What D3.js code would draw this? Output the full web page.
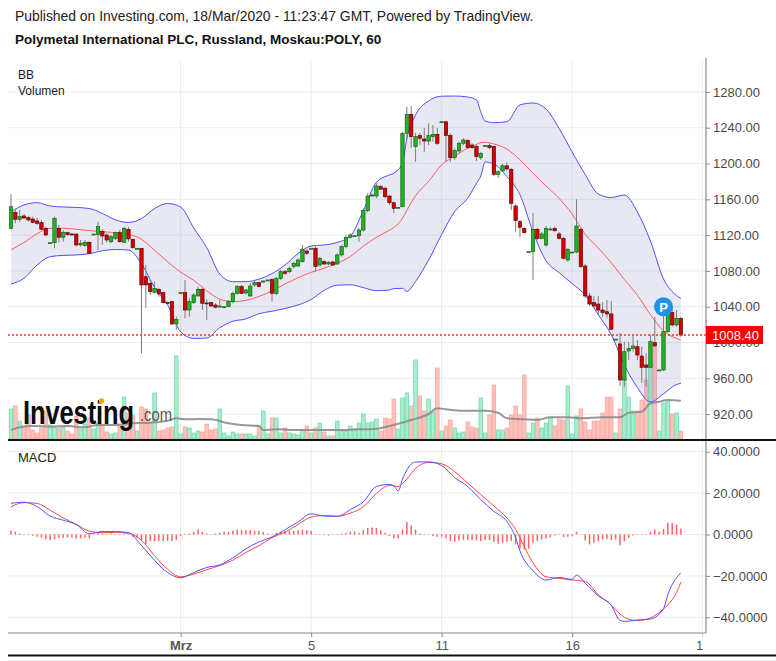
<!DOCTYPE html>
<html><head><meta charset="utf-8">
<script src="https://cdn.jsdelivr.net/npm/d3@7"></script>
<style>body{margin:0;background:#fff;}svg{display:block;font-family:"Liberation Sans",Arial,sans-serif;}</style>
</head><body><svg id="c" width="776" height="661"></svg>
<script>
// ---------- DATA (hourly bars, index 0..154) ----------
const open=[1127.6,1145.5,1137.7,1141.4,1139.5,1138.0,1135.8,1133.9,1127.6,1111.5,
1111.5,1127.6,1117.6,1122.7,1121.2,1121.2,1109.0,1108.2,1112.0,1121.2,
1120.9,1123.8,1120.1,1112.6,1116.4,1122.7,1112.0,1126.5,1115.3,1105.3,
1105.3,1073.5,1066.2,1056.1,1059.5,1055.7,1044.9,1045.6,1020.7,1055.7,
1055.7,1036.3,1044.5,1052.0,1059.5,1044.2,1044.5,1041.9,1040.8,1040.0,
1040.0,1045.6,1054.9,1062.4,1055.3,1052.0,1064.3,1066.9,1067.6,1069.9,
1070.6,1054.9,1071.7,1079.1,1079.1,1084.7,1085.5,1090.3,1102.3,1105.3,
1105.3,1086.6,1090.3,1087.7,1090.0,1087.7,1097.8,1107.1,1117.6,1119.3,
1119.3,1125.7,1147.3,1164.8,1163.7,1174.1,1172.3,1163.7,1156.2,1151.1,
1151.7,1233.8,1255.0,1218.8,1231.1,1227.4,1225.1,1230.0,1232.6,1246.7,
1246.7,1231.1,1206.5,1214.0,1222.6,1225.5,1220.7,1218.8,1206.5,1219.9,
1219.9,1218.8,1187.9,1191.6,1197.5,1193.5,1152.5,1135.0,1127.6,1101.5,
1101.5,1126.5,1116.4,1109.0,1126.8,1127.6,1121.3,1116.4,1092.2,1101.1,
1101.1,1126.5,1085.5,1052.0,1044.5,1043.0,1036.3,1034.4,1031.9,1003.8,
998.4,958.1,990.5,993.5,995.3,984.9,974.9,972.3,999.8,969.3,
969.3,1012.1,1033.8,1019.6,1027.0];
const high=[1165.9,1148.8,1148.1,1143.5,1141.4,1140.6,1139.5,1136.9,1129.4,1111.5,
1140.6,1131.3,1125.7,1123.8,1122.4,1122.0,1114.5,1114.5,1112.6,1121.2,
1134.9,1126.5,1122.0,1120.1,1123.8,1125.7,1129.4,1129.4,1116.4,1105.3,
1105.3,1086.6,1069.9,1067.9,1060.6,1056.8,1045.6,1046.4,1028.8,1055.7,
1069.9,1049.4,1054.9,1062.4,1060.6,1048.0,1045.6,1043.8,1047.5,1040.0,
1047.5,1056.8,1064.3,1064.3,1060.0,1066.2,1069.9,1068.0,1069.5,1069.9,
1071.7,1073.5,1081.0,1081.0,1084.7,1090.0,1094.1,1109.0,1104.2,1105.3,
1107.1,1095.9,1092.2,1091.1,1091.1,1099.7,1109.0,1120.1,1122.0,1119.3,
1127.6,1150.0,1166.7,1166.7,1177.9,1176.0,1174.1,1164.8,1157.4,1151.1,
1235.2,1263.5,1264.3,1234.1,1234.1,1239.7,1244.9,1243.0,1239.7,1246.7,
1246.7,1233.8,1217.0,1224.4,1228.2,1227.4,1222.6,1220.7,1212.9,1219.9,
1222.6,1219.9,1192.7,1199.5,1201.4,1195.0,1154.8,1136.9,1129.1,1101.5,
1144.7,1128.0,1123.5,1130.2,1128.7,1129.4,1123.5,1117.9,1105.6,1101.1,
1160.0,1128.0,1087.7,1055.3,1051.9,1051.9,1045.3,1047.5,1046.4,1003.8,
1010.6,1000.9,1000.9,1008.4,1002.8,995.3,988.0,1008.4,1028.8,969.3,
1038.2,1040.0,1040.0,1036.3,1028.8];
const low=[1126.8,1133.2,1135.0,1137.7,1135.0,1133.2,1131.3,1125.7,1119.0,1111.5,
1105.3,1111.5,1112.6,1119.0,1119.6,1107.1,1107.1,1107.1,1098.9,1121.2,
1103.4,1109.0,1111.5,1110.9,1114.5,1111.5,1110.9,1112.6,1105.3,1105.3,
987.9,1038.6,1053.1,1054.9,1051.2,1043.8,1043.0,1019.6,1014.0,1055.7,
1027.0,1028.8,1043.0,1051.2,1036.3,1025.2,1039.4,1038.2,1038.6,1040.0,
1039.4,1043.8,1053.1,1054.2,1054.0,1051.2,1062.4,1061.7,1066.9,1069.9,
1045.6,1053.1,1069.9,1075.4,1077.3,1082.9,1084.4,1089.2,1097.8,1105.3,
1079.1,1084.7,1086.6,1086.6,1085.5,1086.6,1095.9,1105.3,1116.4,1119.3,
1112.6,1123.8,1145.5,1162.9,1161.1,1170.4,1161.1,1153.6,1144.4,1151.1,
1151.1,1226.3,1217.3,1202.0,1220.7,1212.9,1220.7,1224.4,1220.7,1246.7,
1202.0,1202.0,1203.9,1211.4,1220.7,1216.2,1216.2,1202.8,1203.9,1219.9,
1216.2,1186.1,1183.8,1190.5,1192.0,1148.1,1123.8,1118.2,1121.8,1101.5,
1069.9,1114.5,1115.7,1106.7,1125.5,1123.5,1115.1,1093.3,1090.3,1101.1,
1099.7,1083.3,1049.7,1040.8,1038.6,1030.8,1028.5,1027.4,1014.0,1003.8,
951.4,950.6,980.5,989.7,980.5,954.8,950.6,971.2,995.3,969.3,
968.5,1010.6,1017.7,1017.7,1006.5];
const close=[1151.7,1137.7,1140.6,1139.1,1136.9,1134.3,1133.2,1126.5,1120.1,1111.5,
1138.8,1117.6,1122.7,1120.5,1120.7,1109.0,1110.9,1112.0,1099.7,1121.2,
1129.4,1119.0,1114.5,1118.2,1122.7,1112.6,1127.6,1115.7,1105.9,1105.3,
1064.3,1064.3,1056.8,1060.6,1054.2,1044.5,1043.8,1020.7,1025.9,1055.7,
1036.3,1045.6,1053.1,1059.5,1043.8,1044.0,1040.8,1039.4,1040.8,1040.0,
1045.6,1054.9,1062.4,1054.9,1058.7,1063.1,1066.9,1062.4,1068.7,1069.9,
1054.9,1071.7,1079.1,1077.3,1082.9,1088.5,1092.2,1104.2,1099.7,1105.3,
1084.7,1094.1,1087.7,1089.4,1086.6,1097.8,1107.1,1117.6,1120.1,1119.3,
1125.7,1147.3,1163.7,1164.8,1174.9,1171.2,1162.9,1156.2,1149.9,1151.1,
1233.8,1255.0,1230.0,1230.0,1228.2,1225.1,1231.1,1232.6,1222.6,1246.7,
1231.1,1206.5,1214.3,1222.6,1226.3,1217.7,1217.7,1207.6,1211.4,1219.9,
1217.7,1187.9,1190.8,1197.5,1193.9,1155.5,1136.1,1128.7,1122.7,1101.5,
1126.5,1116.4,1121.3,1127.6,1126.8,1124.9,1116.4,1094.1,1104.2,1101.1,
1130.2,1084.7,1052.0,1043.0,1040.8,1036.3,1033.3,1031.9,1014.8,1003.8,
958.1,989.7,993.5,996.1,986.0,972.3,972.3,1000.9,996.1,969.3,
1012.1,1033.8,1019.6,1027.0,1008.4];
const volume=[30,33,18,13,24,9,6,11,28,14, 12,11,12,8,5,23,10,15,21,10,
16,13,7,5,6,15,42,26,24,8, 32,30,17,46,8,9,11,12,83,5,
12,11,6,8,7,15,9,10,30,6, 3,7,5,5,5,5,3,13,28,5,
21,21,6,11,6,5,4,9,13,6, 11,16,7,3,3,18,8,8,13,10,
16,25,16,17,20,8,21,20,40,10, 41,46,33,79,43,28,40,27,71,8,
13,19,11,6,7,17,12,11,41,6, 24,54,9,9,11,24,33,24,64,6,
16,21,11,16,21,13,20,19,53,5, 23,30,17,9,18,18,26,42,42,6,
30,62,42,28,28,39,59,75,92,8, 36,38,25,26,8];
const volMaIdx=[0,2,5,9,13,17,20,24,28,32,36,38,40,43,46,50,53,57,58,61,66,71,76,80,83,87,92,96,98,100,104,109,112,114,118,121,124,128,131,136,140,142,145,147,149,151,154];
const volMa=[9,11.7,13,12.3,13,11.7,14,14,15.7,16.3,18.3,20.7,19.7,20,19.7,15.7,14,13,9,9.7,9,9,9,9.7,9.7,13,19,25,30.7,29.7,28.3,28.3,26.3,20.7,19.7,19,21.7,21.7,20.7,21.7,21.7,26.3,27.3,35.7,37.3,39,38.3];
const bbIdx=[0,3,6,9,12,15,18,21,24,27,30,33,36,39,42,45,48,51,54,57,60,63,66,69,72,75,78,81,84,87,88,90,91,93,96,99,102,105,107,108,109,111,114,117,120,123,126,129,132,135,138,141,144,147,150,153,154];
const bbUpper=[1146.2,1153.7,1156.2,1152.5,1151.4,1150.9,1149.7,1144.2,1137.1,1134.1,1138.5,1149.7,1155.3,1151.4,1128.0,1106.0,1076.5,1068.0,1068.0,1070.8,1077.0,1086.6,1099.5,1107.8,1109.0,1111.8,1118.8,1147.3,1179.0,1187.2,1189.2,1200.6,1228.0,1254.2,1269.9,1275.2,1275.4,1274.3,1271.0,1257.6,1247.5,1245.6,1246.7,1265.4,1267.6,1260.9,1239.1,1212.9,1187.7,1165.9,1162.0,1164.8,1145.8,1113.4,1071.0,1052.5,1049.2];
const bbMiddle=[1103.4,1111.8,1121.6,1127.6,1127.6,1126.5,1125.1,1123.7,1122.8,1121.0,1115.4,1103.0,1090.2,1078.6,1069.5,1057.8,1048.4,1045.6,1047.1,1051.4,1057.7,1065.4,1072.4,1078.4,1083.0,1088.6,1096.1,1107.6,1117.5,1125.5,1128.5,1138.8,1147.7,1164.0,1180.0,1198.5,1208.1,1217.2,1221.3,1223.3,1223.7,1221.9,1216.0,1204.2,1189.1,1174.9,1161.0,1143.6,1120.9,1105.6,1089.1,1070.5,1052.8,1031.2,1013.1,1004.5,1002.8];
const bbLower=[1065.4,1071.8,1086.6,1095.9,1097.3,1097.8,1099.2,1102.5,1103.9,1103.3,1088.0,1061.5,1042.0,1012.0,1004.5,1005.0,1016.5,1023.7,1026.3,1032.2,1034.9,1038.0,1041.9,1048.1,1058.2,1064.1,1064.5,1061.3,1057.9,1058.7,1060.3,1060.5,1057.0,1068.2,1092.2,1120.6,1146.3,1161.3,1177.8,1186.1,1201.7,1199.5,1185.4,1165.1,1123.6,1091.3,1078.0,1065.8,1053.1,1031.0,1008.7,975.1,949.6,933.5,942.7,953.1,954.4];
const macdIdx=[0,3,6,9,12,15,18,21,24,27,30,33,36,39,42,45,48,51,54,57,60,63,66,69,72,75,78,81,84,87,88,89,90,91,93,96,99,102,105,108,111,114,116,117,120,123,126,129,130,132,135,138,140,141,144,147,150,151,153,154];
const macdLine=[15.1,15.6,13.5,8.9,6.9,4.8,0.4,1.4,1.4,0.9,-5.3,-12.5,-18.4,-20.9,-18.4,-15.9,-14.7,-11.3,-6.9,-3.6,-1.2,2.3,6.1,10.0,8.9,8.8,12.0,15.8,23.2,24.2,23.5,21.0,26.7,31.2,35.0,35.1,33.3,27.5,23.2,16.9,11.2,6.3,-1.5,-7.9,-17.5,-22.0,-20.7,-21.7,-19.6,-23.5,-29.6,-34.2,-41.5,-42.0,-41.3,-40.8,-35.8,-29.0,-20.9,-18.5];
const signalLine=[13.4,15.4,15.0,11.8,8.0,4.9,1.6,0.9,1.0,0.6,-2.8,-10.2,-16.8,-20.4,-19.1,-17.0,-15.0,-12.4,-8.7,-5.4,-1.5,1.1,4.9,8.4,9.2,8.8,10.3,13.4,19.8,23.7,23.5,23.2,24.6,26.8,31.9,34.8,34.2,30.3,24.8,19.3,13.8,8.0,2.5,-1.6,-13.7,-20.4,-21.2,-22.0,-22.2,-22.7,-29.1,-34.1,-38.4,-40.0,-41.6,-40.3,-36.0,-34.0,-28.0,-23.0];
const macdHist=[1.8,1.3,0.5,0,0,-0.6,-1.1,-1.6,-2.3,-2.7,
-2.3,-1.6,-1.6,-1.4,-1.4,-1.9,-1.9,-1.6,-1.9,-0.3,
0.8,0.5,0,0.5,0.2,-0.3,0.5,0,-1.1,-1.6,
-2.7,-4.7,-3.2,-3.2,-3.1,-3.2,-3.1,-3.2,-2.7,-0.8,
-0.3,0.5,1.3,2.4,1.3,0.5,0.2,0.5,0.8,1.3,
1.3,1.8,2.4,2.1,2.1,2.1,1.8,1.8,1.3,0.5,
0.2,0.8,1.3,1.6,1.8,1.8,2.1,2.4,2.1,1.8,
0,0,-0.3,-0.5,-0.3,0.2,0.5,0.8,1.4,1.4,
0.8,2.1,3.2,3.4,3.2,2.1,0.8,-0.8,-1.9,-1.9,
2.4,6.0,4.3,2.4,0.5,0,0,-0.8,-1.1,-1.1,
-1.9,-3.2,-3.5,-2.9,-2.6,-2.7,-2.6,-2.9,-3.2,-2.7,
-2.7,-3.5,-4.5,-4.0,-3.5,-3.2,-4.8,-6.8,-7.2,-6.8,
-4.0,-3.2,-2.4,-1.9,-1.3,-0.5,0,-1.3,-1.1,-0.8,
1.3,0,-2.9,-4.8,-4.0,-3.2,-2.4,-2.1,-2.7,-2.4,
-5.2,-3.2,-1.6,-0.5,0,0.3,0,1.3,2.4,1.3,
2.7,5.6,5.6,4.8,2.9];
const priceTicks=[920,960,1000,1040,1080,1120,1160,1200,1240,1280];
const macdTicks=[-40,-20,0,20,40];
const dateTickIdx=[39,69,99,129,159];
const dateTickLabels=["Mrz","5","11","16","19"];
const lastPrice=1008.40;
const markerIdx=150, markerPrice=1040, markerText="P";
const title1="Published on Investing.com, 18/Mar/2020 - 11:23:47 GMT, Powered by TradingView.";
const title2="Polymetal International PLC, Russland, Moskau:POLY, 60";

// ---------- LAYOUT ----------
const svg=d3.select('#c');
const L=8,R=706,mainTop=62,mainBot=440,macdBot=633;
const n=close.length, idx=d3.range(n);
const x=d3.scaleLinear().domain([0,154]).range([11,680.9]);
const yP=d3.scaleLinear().domain([960,1200]).range([378.3,163.5]);
const yV=d3.scaleLinear().domain([0,100]).range([439,339]);
const yM=d3.scaleLinear().domain([-40,40]).range([617.3,451.7]);

const defs=svg.append('defs');
defs.append('clipPath').attr('id','clipMain').append('rect').attr('x',L).attr('y',mainTop).attr('width',R-L).attr('height',mainBot-mainTop);
defs.append('clipPath').attr('id','clipMacd').append('rect').attr('x',L).attr('y',mainBot+1).attr('width',R-L).attr('height',macdBot-mainBot-1);
defs.append('clipPath').attr('id','clipAxisX').append('rect').attr('x',0).attr('y',0).attr('width',703).attr('height',22);

// titles
svg.append('text').attr('x',15).attr('y',20.5).attr('font-size',13.9).attr('fill','#222').text(title1);
svg.append('text').attr('x',15).attr('y',44).attr('font-size',13.5).attr('font-weight','bold').attr('fill','#111').text(title2);

// grid
const grid=svg.append('g');
grid.selectAll('line.hp').data(priceTicks).join('line')
  .attr('x1',L).attr('x2',R).attr('y1',d=>yP(d)).attr('y2',d=>yP(d)).attr('stroke','#ededed');
grid.selectAll('line.hm').data(macdTicks).join('line')
  .attr('x1',L).attr('x2',R).attr('y1',d=>yM(d)).attr('y2',d=>yM(d)).attr('stroke','#ededed');
grid.selectAll('line.v').data(dateTickIdx.filter(d=>x(d)<R)).join('line')
  .attr('x1',d=>x(d)).attr('x2',d=>x(d)).attr('y1',mainTop).attr('y2',macdBot).attr('stroke','#ededed');

// ---------- MAIN PANE ----------
const gm=svg.append('g').attr('clip-path','url(#clipMain)');
const up=i=>close[i]>=open[i];
// volume
gm.selectAll('rect.vol').data(idx).join('rect')
  .attr('x',i=>x(i)-1.8).attr('width',3.6)
  .attr('y',i=>yV(volume[i])).attr('height',i=>yV(0)-yV(volume[i]))
  .attr('fill',i=>up(i)?'#a9ecce':'#ffc2bd')
  .attr('stroke',i=>up(i)?'#6ad8a6':'#ff9f97').attr('stroke-width',0.7);
// volume MA
gm.append('path').datum(volMaIdx.map((d,k)=>[d,volMa[k]]))
  .attr('d',d3.line().x(d=>x(d[0])).y(d=>yV(d[1])).curve(d3.curveMonotoneX))
  .attr('fill','none').attr('stroke','#8c8c8c').attr('stroke-width',2).attr('opacity',0.9);
// BB
const bb=bbIdx.map((d,k)=>({i:d,u:bbUpper[k],m:bbMiddle[k],l:bbLower[k]}));
gm.append('path').datum(bb)
  .attr('d',d3.area().x(d=>x(d.i)).y0(d=>yP(d.l)).y1(d=>yP(d.u)).curve(d3.curveMonotoneX))
  .attr('fill','rgba(125,125,185,0.18)');
[['u','#4f4fff'],['l','#4f4fff'],['m','#ff5c5c']].forEach(([k,c])=>{
  gm.append('path').datum(bb)
    .attr('d',d3.line().x(d=>x(d.i)).y(d=>yP(d[k])).curve(d3.curveMonotoneX))
    .attr('fill','none').attr('stroke',c).attr('stroke-width',1);
});
// candles
gm.selectAll('line.wick').data(idx).join('line')
  .attr('x1',i=>x(i)).attr('x2',i=>x(i))
  .attr('y1',i=>yP(high[i])).attr('y2',i=>yP(low[i]))
  .attr('stroke','#7d7d7d').attr('stroke-width',1);
gm.selectAll('rect.body').data(idx).join('rect')
  .attr('x',i=>x(i)-1.7).attr('width',3.4)
  .attr('y',i=>yP(Math.max(open[i],close[i])))
  .attr('height',i=>Math.max(1,Math.abs(yP(open[i])-yP(close[i]))))
  .attr('fill',i=>up(i)?'#1fb51f':'#d40000')
  .attr('stroke',i=>up(i)?'#145214':'#500000').attr('stroke-width',0.6);
// last price line
gm.append('line').attr('x1',L).attr('x2',R).attr('y1',yP(lastPrice)).attr('y2',yP(lastPrice))
  .attr('stroke','#ff2a2a').attr('stroke-width',1.3).attr('stroke-dasharray','2,2');
// marker
gm.append('circle').attr('cx',x(markerIdx)).attr('cy',yP(markerPrice)).attr('r',9.5).attr('fill','#1e92ea');
gm.append('text').attr('x',x(markerIdx)).attr('y',yP(markerPrice)+4.8).attr('text-anchor','middle')
  .attr('font-size',13).attr('font-weight','bold').attr('fill','#fff').text(markerText);

// logo (word sized to its natural width, stretched vertically)
const logo=svg.append('g');
logo.append('text').attr('transform','translate(23,424) scale(1,1.27)').attr('font-size',25.5).attr('font-weight','bold')
  .attr('letter-spacing',-0.1).attr('fill','#0c0c0c').text('Investing');
logo.append('circle').attr('cx',101.5).attr('cy',401).attr('r',2.8).attr('fill','#f5a31a');
logo.append('text').attr('transform','translate(140,421) scale(0.78,1)').attr('font-size',19).attr('fill','#555').text('.com');

// pane labels
svg.append('text').attr('x',18).attr('y',79).attr('font-size',12).attr('fill','#222').text('BB');
svg.append('text').attr('x',18).attr('y',95).attr('font-size',12).attr('fill','#222').text('Volumen');
svg.append('text').attr('x',18).attr('y',462).attr('font-size',13).attr('fill','#222').text('MACD');

// ---------- MACD PANE ----------
const gd=svg.append('g').attr('clip-path','url(#clipMacd)');
gd.selectAll('rect.h').data(idx).join('rect')
  .attr('x',i=>x(i)-0.75).attr('width',1.5)
  .attr('y',i=>Math.min(yM(0),yM(macdHist[i])))
  .attr('height',i=>Math.max(0.5,Math.abs(yM(macdHist[i])-yM(0))))
  .attr('fill','#ff6262');
gd.append('path').datum(macdIdx.map((d,k)=>[d,signalLine[k]]))
  .attr('d',d3.line().x(d=>x(d[0])).y(d=>yM(d[1])).curve(d3.curveMonotoneX))
  .attr('fill','none').attr('stroke','#ff4646').attr('stroke-width',1);
gd.append('path').datum(macdIdx.map((d,k)=>[d,macdLine[k]]))
  .attr('d',d3.line().x(d=>x(d[0])).y(d=>yM(d[1])).curve(d3.curveMonotoneX))
  .attr('fill','none').attr('stroke','#5050ff').attr('stroke-width',1);

// ---------- AXES ----------
const axP=svg.append('g').attr('transform',`translate(${R},0)`)
  .call(d3.axisRight(yP).tickValues(priceTicks).tickFormat(d3.format('.2f')).tickSize(4).tickPadding(3));
const axM=svg.append('g').attr('transform',`translate(${R},0)`)
  .call(d3.axisRight(yM).tickValues(macdTicks).tickFormat(d3.format('.4f')).tickSize(4).tickPadding(3));
[axP,axM].forEach(a=>{a.select('.domain').remove();
  a.selectAll('text').attr('font-size',13).attr('fill','#4a4a4a').attr('font-family','"Liberation Sans",Arial,sans-serif');
  a.selectAll('line').attr('stroke','#888');});
svg.append('line').attr('x1',R).attr('x2',R).attr('y1',mainTop-4).attr('y2',macdBot).attr('stroke','#888').attr('stroke-width',1.2);

const axX=svg.append('g').attr('transform',`translate(0,${macdBot})`).attr('clip-path','url(#clipAxisX)')
  .call(d3.axisBottom(x).tickValues(dateTickIdx).tickFormat((d,k)=>dateTickLabels[k]).tickSize(4).tickPadding(4));
axX.select('.domain').remove();
axX.selectAll('text').attr('font-size',13).attr('fill','#555').attr('font-family','"Liberation Sans",Arial,sans-serif')
  .attr('font-weight',(d,k)=>k===0?'bold':'normal');
axX.selectAll('line').attr('stroke','#888');
svg.append('line').attr('x1',L).attr('x2',R).attr('y1',macdBot).attr('y2',macdBot).attr('stroke','#888').attr('stroke-width',1.2);

// separators
svg.append('line').attr('x1',L).attr('x2',776).attr('y1',mainBot).attr('y2',mainBot).attr('stroke','#111').attr('stroke-width',2);
svg.append('line').attr('x1',L).attr('x2',776).attr('y1',655.5).attr('y2',655.5).attr('stroke','#111').attr('stroke-width',2);

// last price label
const yl=yP(lastPrice);
svg.append('rect').attr('x',R).attr('y',yl-9).attr('width',57).attr('height',18).attr('fill','#ff0000');
svg.append('text').attr('x',R+6).attr('y',yl+4.6).attr('font-size',13).attr('fill','#fff').text(d3.format('.2f')(lastPrice));
</script></body></html>
